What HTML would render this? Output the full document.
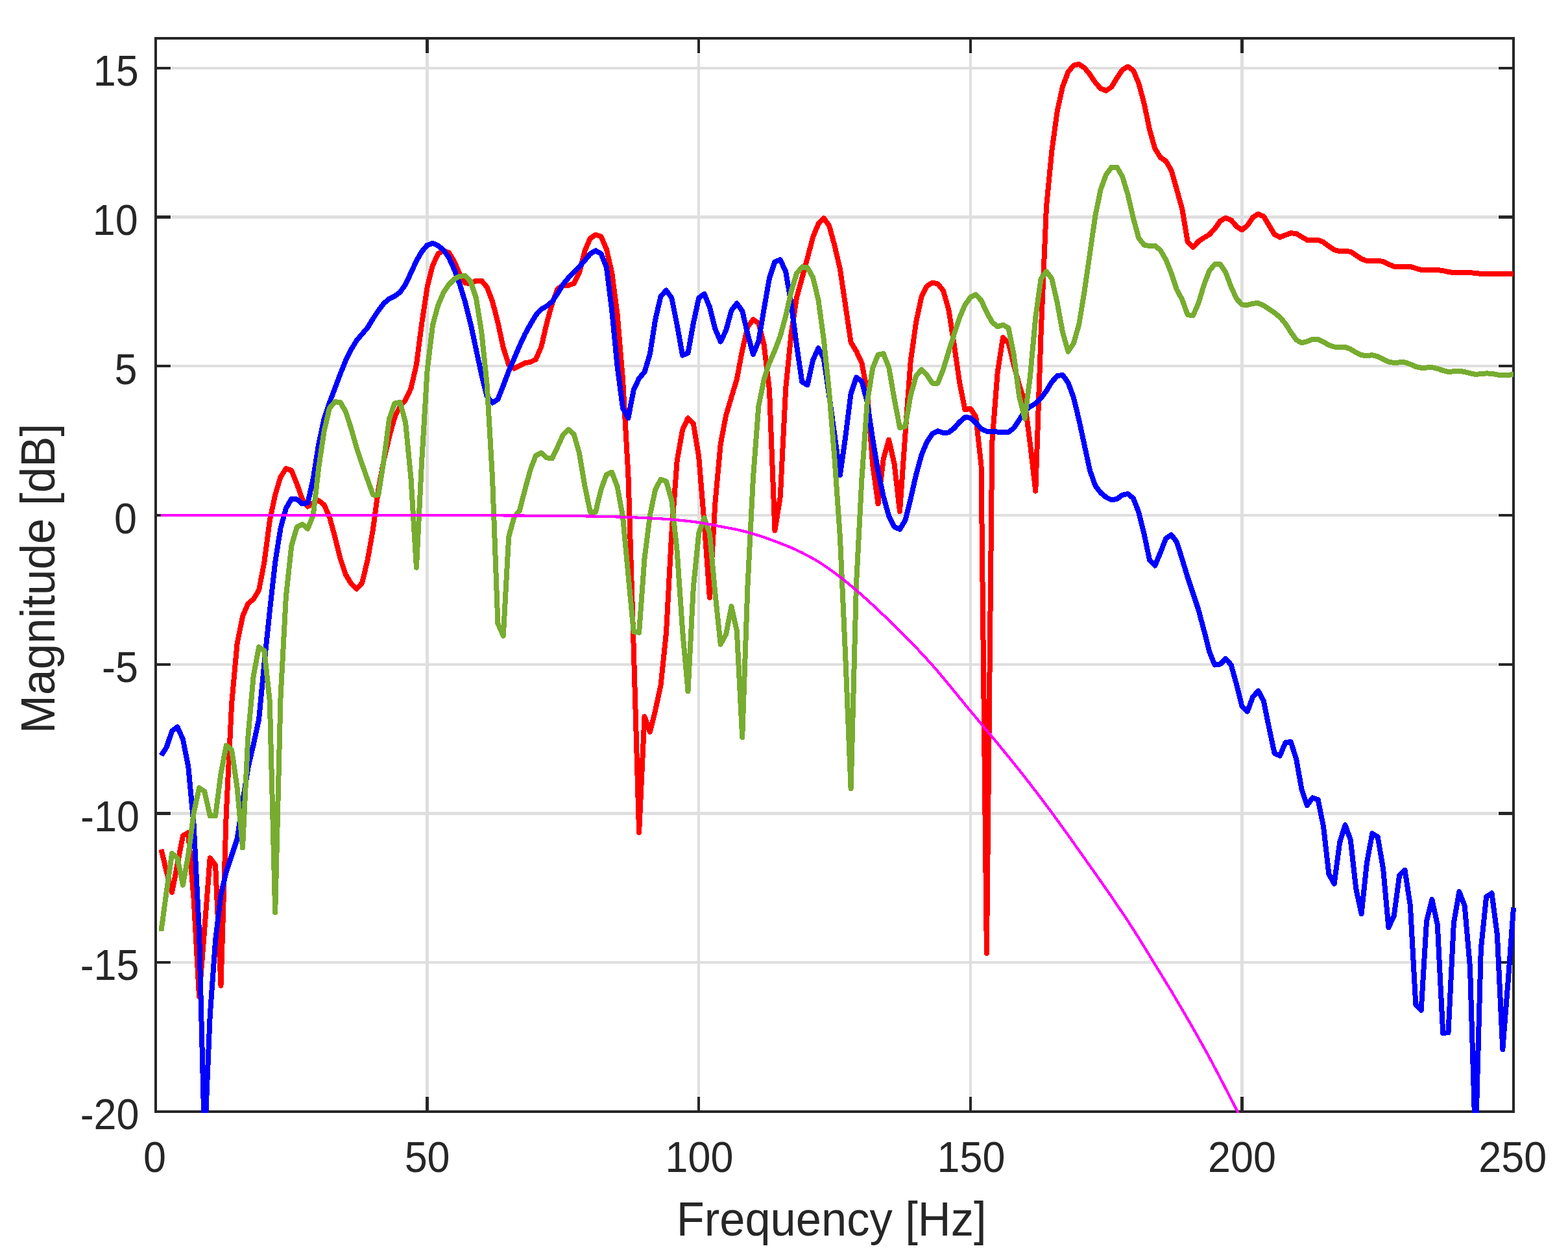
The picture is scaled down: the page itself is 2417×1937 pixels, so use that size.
<!DOCTYPE html>
<html lang="en"><head><meta charset="utf-8"><title>Magnitude response</title>
<style>html,body{margin:0;padding:0;background:#fff}body{width:2417px;height:1937px;overflow:hidden}svg{display:block}text{font-family:"Liberation Sans",sans-serif;fill:#262626}</style></head><body>
<svg width="2417" height="1937" viewBox="0 0 2417 1937" role="img" aria-label="Magnitude [dB] versus Frequency [Hz]">
<rect width="2417" height="1937" fill="#fff"/>
<defs><clipPath id="c"><rect x="236" y="57" width="2101" height="1658"/></clipPath></defs>
<g shape-rendering="crispEdges">
<rect x="656" y="83" width="5" height="1606" fill="#dfdfdf"/>
<rect x="1075" y="83" width="4" height="1606" fill="#dfdfdf"/>
<rect x="1494" y="83" width="4" height="1606" fill="#dfdfdf"/>
<rect x="1912" y="83" width="5" height="1606" fill="#dfdfdf"/>
<rect x="264" y="103" width="2045" height="4" fill="#dfdfdf"/>
<rect x="264" y="332" width="2045" height="5" fill="#dfdfdf"/>
<rect x="264" y="562" width="2045" height="4" fill="#dfdfdf"/>
<rect x="264" y="792" width="2045" height="4" fill="#dfdfdf"/>
<rect x="264" y="1022" width="2045" height="4" fill="#dfdfdf"/>
<rect x="264" y="1251" width="2045" height="5" fill="#dfdfdf"/>
<rect x="264" y="1481" width="2045" height="4" fill="#dfdfdf"/>
<rect x="238" y="57" width="2097" height="4" fill="#262626"/>
<rect x="238" y="1711" width="2097" height="4" fill="#262626"/>
<rect x="238" y="57" width="4" height="1658" fill="#262626"/>
<rect x="2331" y="57" width="4" height="1658" fill="#262626"/>
<rect x="656" y="1690" width="5" height="25" fill="#262626"/>
<rect x="656" y="57" width="5" height="25" fill="#262626"/>
<rect x="1075" y="1690" width="4" height="25" fill="#262626"/>
<rect x="1075" y="57" width="4" height="25" fill="#262626"/>
<rect x="1494" y="1690" width="4" height="25" fill="#262626"/>
<rect x="1494" y="57" width="4" height="25" fill="#262626"/>
<rect x="1912" y="1690" width="5" height="25" fill="#262626"/>
<rect x="1912" y="57" width="5" height="25" fill="#262626"/>
<rect x="238" y="103" width="25" height="4" fill="#262626"/>
<rect x="2310" y="103" width="25" height="4" fill="#262626"/>
<rect x="238" y="332" width="25" height="5" fill="#262626"/>
<rect x="2310" y="332" width="25" height="5" fill="#262626"/>
<rect x="238" y="562" width="25" height="4" fill="#262626"/>
<rect x="2310" y="562" width="25" height="4" fill="#262626"/>
<rect x="238" y="792" width="25" height="4" fill="#262626"/>
<rect x="2310" y="792" width="25" height="4" fill="#262626"/>
<rect x="238" y="1022" width="25" height="4" fill="#262626"/>
<rect x="2310" y="1022" width="25" height="4" fill="#262626"/>
<rect x="238" y="1251" width="25" height="5" fill="#262626"/>
<rect x="2310" y="1251" width="25" height="5" fill="#262626"/>
<rect x="238" y="1481" width="25" height="4" fill="#262626"/>
<rect x="2310" y="1481" width="25" height="4" fill="#262626"/>
</g>
<g clip-path="url(#c)" fill="none" stroke-linejoin="round" stroke-miterlimit="4" stroke-linecap="butt" shape-rendering="crispEdges">
<path d="M248.4 1309.0L256.7 1343.0L265.1 1375.0L273.5 1331.8L281.9 1287.9L290.2 1283.1L298.6 1384.7L307.0 1535.8L315.3 1432.0L323.7 1322.1L332.1 1333.2L340.5 1518.7L348.8 1253.1L357.2 1083.3L365.6 991.5L374.0 949.8L382.3 930.3L390.7 923.3L399.1 909.4L407.4 866.3L415.8 802.3L424.2 762.5L432.6 734.7L440.9 722.1L449.3 724.9L457.7 745.8L466.0 769.4L474.4 780.6L482.8 775.0L491.2 771.4L499.5 777.8L507.9 796.7L516.3 827.3L524.6 860.7L533.0 885.7L541.4 899.7L549.8 907.5L558.1 898.3L566.5 863.5L574.9 816.2L583.3 754.1L591.6 709.6L600.0 673.4L608.4 642.8L616.7 626.1L625.1 616.4L633.5 598.3L641.9 562.1L650.2 498.1L658.6 442.5L667.0 409.1L675.3 391.0L683.7 386.2L692.1 389.6L700.5 403.5L708.8 423.0L717.2 436.3L725.6 436.9L733.9 432.7L742.3 432.7L750.7 442.5L759.1 464.7L767.4 496.7L775.8 535.7L784.2 562.1L792.6 567.7L800.9 563.5L809.3 559.3L817.7 557.9L826.0 553.8L834.4 534.3L842.8 498.1L851.2 467.5L859.5 445.2L867.9 439.7L876.3 439.7L884.6 436.9L893.0 420.2L901.4 386.8L909.8 367.3L918.1 361.7L926.5 364.5L934.9 384.0L943.2 420.2L951.6 484.2L960.0 584.4L968.4 731.9L976.7 997.1L985.1 1283.0L993.5 1104.2L1001.9 1127.9L1010.2 1094.5L1018.6 1055.5L1027.0 974.8L1035.3 821.7L1043.7 709.6L1052.1 662.3L1060.5 644.2L1068.8 652.6L1077.2 704.0L1085.6 806.1L1093.9 920.9L1102.3 776.4L1110.7 684.5L1119.1 640.0L1127.4 612.2L1135.8 584.4L1144.2 539.9L1152.5 503.7L1160.9 492.5L1169.3 498.1L1177.7 531.5L1186.0 601.1L1194.4 817.6L1202.8 765.3L1211.2 598.3L1219.5 514.8L1227.9 459.1L1236.3 428.5L1244.6 397.9L1253.0 365.9L1261.4 345.1L1269.8 336.2L1278.1 347.8L1286.5 378.4L1294.9 414.6L1303.2 470.3L1311.6 527.3L1320.0 541.2L1328.4 559.3L1336.7 603.9L1345.1 715.2L1353.5 776.4L1361.8 706.8L1370.2 677.6L1378.6 715.2L1387.0 788.3L1395.3 670.7L1403.7 556.5L1412.1 496.4L1420.5 457.4L1428.8 440.8L1437.2 435.7L1445.6 437.4L1453.9 447.7L1462.3 476.9L1470.7 530.6L1479.1 589.1L1487.4 631.3L1495.8 629.7L1504.2 641.9L1512.5 717.1L1520.9 1469.0L1529.3 681.6L1537.7 573.6L1546.0 520.0L1554.4 527.8L1562.8 562.6L1571.1 593.2L1579.5 618.3L1587.9 683.7L1596.3 756.7L1604.6 513.9L1613.0 318.3L1621.4 232.0L1629.8 170.8L1638.1 133.2L1646.5 111.0L1654.9 100.7L1663.2 99.0L1671.6 104.5L1680.0 114.6L1688.4 127.1L1696.7 136.6L1705.1 139.6L1713.5 134.0L1721.8 119.9L1730.2 107.6L1738.6 102.6L1747.0 108.7L1755.3 128.5L1763.7 159.7L1772.1 200.0L1780.4 229.2L1788.8 242.6L1797.2 248.2L1805.6 262.6L1813.9 291.9L1822.3 322.5L1830.7 372.5L1839.1 380.9L1847.4 372.0L1855.8 366.4L1864.2 361.4L1872.5 352.5L1880.9 340.6L1889.3 335.8L1897.7 339.1L1906.0 348.9L1914.4 354.4L1922.8 347.5L1931.1 335.0L1939.5 329.7L1947.9 333.6L1956.3 347.5L1964.6 361.4L1973.0 365.6L1981.4 362.2L1989.7 359.2L1998.1 360.0L2006.5 365.0L2014.9 369.8L2023.2 370.3L2031.6 369.8L2040.0 373.1L2048.4 379.5L2056.7 385.1L2065.1 387.3L2073.5 387.0L2081.8 387.8L2090.2 393.4L2098.6 399.0L2107.0 402.0L2115.3 401.8L2123.7 401.5L2132.1 403.1L2140.4 407.3L2148.8 410.7L2157.2 411.2L2165.6 410.7L2173.9 410.9L2182.3 413.4L2190.7 416.0L2199.0 416.5L2207.4 416.2L2215.8 416.0L2224.2 417.1L2232.5 419.0L2240.9 420.1L2249.3 420.1L2257.7 419.9L2266.0 420.1L2274.4 421.0L2282.8 421.8L2291.1 422.1L2299.5 422.1L2307.9 422.1L2316.3 422.1L2324.6 422.1L2333.0 422.1" stroke="#ff0000" stroke-width="8"/>
<path d="M248.4 1164.1L256.7 1151.5L265.1 1126.5L273.5 1120.1L281.9 1139.0L290.2 1180.7L298.6 1270.3L307.0 1434.8L315.3 1763.5L323.7 1565.5L332.1 1448.8L340.5 1379.0L348.8 1343.2L357.2 1317.9L365.6 1292.6L374.0 1236.4L382.3 1183.5L390.7 1147.3L399.1 1108.4L407.4 1022.1L415.8 941.4L424.2 866.3L432.6 813.4L440.9 783.4L449.3 768.6L457.7 769.4L466.0 776.4L474.4 775.0L482.8 737.4L491.2 684.5L499.5 645.6L507.9 620.5L516.3 598.3L524.6 576.0L533.0 555.2L541.4 538.4L549.8 524.6L558.1 514.8L566.5 505.1L574.9 491.2L583.3 478.6L591.6 467.5L600.0 460.5L608.4 456.4L616.7 450.2L625.1 438.3L633.5 420.2L641.9 402.1L650.2 387.6L658.6 377.9L667.0 374.8L675.3 378.4L683.7 385.4L692.1 397.3L700.5 416.0L708.8 438.3L717.2 466.1L725.6 499.5L733.9 538.4L742.3 577.4L750.7 610.8L759.1 620.5L767.4 615.5L775.8 594.1L784.2 571.8L792.6 552.4L800.9 532.9L809.3 514.8L817.7 499.5L826.0 485.6L834.4 476.4L842.8 471.7L851.2 464.7L859.5 452.2L867.9 438.3L876.3 428.0L884.6 419.4L893.0 411.0L901.4 401.3L909.8 391.2L918.1 386.2L926.5 391.0L934.9 411.8L943.2 478.6L951.6 564.9L960.0 628.9L968.4 644.2L976.7 601.1L985.1 583.0L993.5 573.3L1001.9 545.4L1010.2 492.5L1018.6 456.4L1027.0 447.5L1035.3 459.1L1043.7 500.9L1052.1 547.6L1060.5 544.0L1068.8 498.1L1077.2 459.1L1085.6 453.0L1093.9 473.1L1102.3 506.5L1110.7 526.5L1119.1 509.2L1127.4 478.6L1135.8 467.5L1144.2 479.2L1152.5 514.8L1160.9 546.0L1169.3 525.9L1177.7 475.9L1186.0 428.5L1194.4 403.5L1202.8 400.2L1211.2 418.8L1219.5 467.5L1227.9 531.5L1236.3 588.6L1244.6 593.3L1253.0 555.2L1261.4 536.5L1269.8 552.4L1278.1 609.4L1286.5 670.7L1294.9 731.9L1303.2 673.4L1311.6 606.6L1320.0 581.6L1328.4 587.7L1336.7 619.2L1345.1 676.2L1353.5 726.3L1361.8 765.3L1370.2 795.3L1378.6 812.0L1387.0 815.6L1395.3 801.9L1403.7 768.6L1412.1 731.5L1420.5 700.9L1428.8 680.9L1437.2 668.4L1445.6 664.2L1453.9 667.0L1462.3 666.4L1470.7 660.0L1479.1 650.3L1487.4 643.3L1495.8 643.6L1504.2 651.6L1512.5 660.6L1520.9 664.7L1529.3 664.7L1537.7 665.6L1546.0 666.4L1554.4 666.1L1562.8 659.5L1571.1 647.0L1579.5 633.0L1587.9 626.6L1596.3 621.9L1604.6 613.6L1613.0 602.4L1621.4 588.5L1629.8 579.1L1638.1 577.9L1646.5 589.6L1654.9 612.7L1663.2 647.0L1671.6 685.9L1680.0 724.9L1688.4 748.5L1696.7 759.4L1705.1 766.3L1713.5 770.5L1721.8 768.9L1730.2 762.7L1738.6 761.0L1747.0 768.0L1755.3 789.4L1763.7 823.4L1772.1 863.2L1780.4 871.5L1788.8 851.2L1797.2 829.8L1805.6 824.2L1813.9 835.3L1822.3 861.8L1830.7 889.6L1839.1 914.7L1847.4 939.7L1855.8 971.1L1864.2 1004.5L1872.5 1024.6L1880.9 1023.5L1889.3 1015.1L1897.7 1024.6L1906.0 1054.6L1914.4 1088.6L1922.8 1096.4L1931.1 1074.1L1939.5 1064.6L1947.9 1080.2L1956.3 1122.0L1964.6 1160.9L1973.0 1164.6L1981.4 1144.2L1989.7 1143.1L1998.1 1169.3L2006.5 1216.6L2014.9 1241.1L2023.2 1229.4L2031.6 1232.2L2040.0 1273.4L2048.4 1347.1L2056.7 1361.9L2065.1 1298.4L2073.5 1271.2L2081.8 1294.3L2090.2 1369.4L2098.6 1408.3L2107.0 1329.0L2115.3 1284.5L2123.7 1289.5L2132.1 1338.8L2140.4 1429.2L2148.8 1411.1L2157.2 1348.5L2165.6 1340.8L2173.9 1395.8L2182.3 1548.3L2190.7 1556.7L2199.0 1419.5L2207.4 1386.1L2215.8 1425.1L2224.2 1592.0L2232.5 1591.2L2240.9 1422.3L2249.3 1374.1L2257.7 1395.8L2266.0 1490.4L2274.4 1768.1L2282.8 1462.7L2291.1 1381.9L2299.5 1376.4L2307.9 1440.4L2316.3 1617.1L2324.6 1512.7L2333.0 1398.6" stroke="#0000ff" stroke-width="8"/>
<path d="M248.4 1435.0L256.7 1373.6L265.1 1315.1L273.5 1322.1L281.9 1363.8L290.2 1317.9L298.6 1253.1L307.0 1214.1L315.3 1219.7L323.7 1257.2L332.1 1257.2L340.5 1191.9L348.8 1148.7L357.2 1155.7L365.6 1214.1L374.0 1306.4L382.3 1136.2L390.7 1041.6L399.1 997.1L407.4 1002.6L415.8 1080.5L424.2 1406.1L432.6 1072.2L440.9 919.1L449.3 841.2L457.7 812.0L466.0 807.8L474.4 814.8L482.8 793.9L491.2 720.7L499.5 665.1L507.9 628.9L516.3 619.2L524.6 620.0L533.0 634.5L541.4 660.9L549.8 690.1L558.1 715.2L566.5 738.8L574.9 762.5L583.3 762.5L591.6 709.6L600.0 645.6L608.4 621.4L616.7 620.0L625.1 651.2L633.5 737.4L641.9 874.6L650.2 709.6L658.6 570.5L667.0 500.9L675.3 470.3L683.7 450.8L692.1 438.3L700.5 429.9L708.8 425.7L717.2 425.2L725.6 434.1L733.9 459.1L742.3 512.0L750.7 592.7L759.1 737.4L767.4 960.9L775.8 979.8L784.2 827.3L792.6 796.7L800.9 787.0L809.3 754.1L817.7 723.5L826.0 701.8L834.4 697.9L842.8 705.4L851.2 706.3L859.5 688.7L867.9 670.1L876.3 661.8L884.6 669.2L893.0 698.5L901.4 748.6L909.8 788.9L918.1 788.9L926.5 754.1L934.9 731.3L943.2 727.7L951.6 750.0L960.0 795.9L968.4 885.7L976.7 973.4L985.1 974.8L993.5 860.7L1001.9 793.9L1010.2 754.1L1018.6 738.8L1027.0 741.6L1035.3 770.8L1043.7 849.6L1052.1 972.0L1060.5 1065.2L1068.8 905.2L1077.2 821.7L1085.6 798.1L1093.9 821.7L1102.3 913.6L1110.7 992.9L1119.1 977.6L1127.4 934.4L1135.8 972.0L1144.2 1136.2L1152.5 902.5L1160.9 737.4L1169.3 626.1L1177.7 584.4L1186.0 559.3L1194.4 539.9L1202.8 517.6L1211.2 487.0L1219.5 449.4L1227.9 421.6L1236.3 411.3L1244.6 412.4L1253.0 427.2L1261.4 461.9L1269.8 523.1L1278.1 603.9L1286.5 706.8L1294.9 827.3L1303.2 1011.0L1311.6 1215.5L1320.0 899.7L1328.4 738.3L1336.7 620.5L1345.1 567.7L1353.5 546.8L1361.8 544.9L1370.2 566.3L1378.6 615.0L1387.0 659.0L1395.3 657.3L1403.7 609.4L1412.1 579.3L1420.5 569.6L1428.8 577.9L1437.2 590.5L1445.6 590.5L1453.9 569.6L1462.3 541.7L1470.7 515.3L1479.1 489.5L1487.4 470.0L1495.8 458.3L1504.2 454.1L1512.5 463.0L1520.9 481.1L1529.3 496.4L1537.7 503.3L1546.0 500.6L1554.4 505.3L1562.8 547.3L1571.1 611.3L1579.5 644.8L1587.9 580.7L1596.3 488.9L1604.6 429.6L1613.0 418.5L1621.4 429.6L1629.8 467.2L1638.1 512.5L1646.5 541.7L1654.9 529.2L1663.2 500.0L1671.6 449.1L1680.0 390.6L1688.4 332.2L1696.7 291.9L1705.1 268.8L1713.5 257.6L1721.8 257.6L1730.2 272.4L1738.6 300.2L1747.0 336.4L1755.3 367.0L1763.7 377.6L1772.1 379.0L1780.4 378.7L1788.8 385.6L1797.2 400.4L1805.6 421.3L1813.9 446.3L1822.3 461.6L1830.7 485.2L1839.1 486.1L1847.4 467.2L1855.8 439.3L1864.2 417.1L1872.5 407.3L1880.9 407.3L1889.3 419.9L1897.7 442.1L1906.0 460.2L1914.4 469.4L1922.8 469.9L1931.1 467.7L1939.5 467.2L1947.9 470.8L1956.3 476.3L1964.6 481.9L1973.0 488.9L1981.4 498.6L1989.7 511.7L1998.1 523.6L2006.5 528.4L2014.9 526.2L2023.2 522.8L2031.6 522.8L2040.0 527.0L2048.4 531.7L2056.7 534.5L2065.1 534.5L2073.5 534.8L2081.8 538.1L2090.2 543.1L2098.6 547.3L2107.0 547.9L2115.3 547.3L2123.7 549.2L2132.1 553.4L2140.4 557.6L2148.8 559.0L2157.2 558.4L2165.6 558.4L2173.9 561.2L2182.3 565.1L2190.7 566.8L2199.0 566.5L2207.4 566.2L2215.8 567.9L2224.2 571.0L2232.5 572.9L2240.9 572.3L2249.3 571.8L2257.7 572.9L2266.0 575.2L2274.4 576.8L2282.8 576.3L2291.1 575.4L2299.5 575.7L2307.9 577.4L2316.3 578.5L2324.6 577.9L2333.0 577.1" stroke="#77ac30" stroke-width="8"/>
<path d="M248.4 794.1L256.7 794.1L265.1 794.1L273.5 794.1L281.9 794.1L290.2 794.1L298.6 794.1L307.0 794.1L315.3 794.1L323.7 794.1L332.1 794.1L340.5 794.1L348.8 794.1L357.2 794.1L365.6 794.1L374.0 794.1L382.3 794.1L390.7 794.1L399.1 794.1L407.4 794.1L415.8 794.1L424.2 794.1L432.6 794.1L440.9 794.1L449.3 794.1L457.7 794.1L466.0 794.1L474.4 794.1L482.8 794.1L491.2 794.1L499.5 794.1L507.9 794.1L516.3 794.1L524.6 794.1L533.0 794.1L541.4 794.1L549.8 794.1L558.1 794.1L566.5 794.1L574.9 794.1L583.3 794.1L591.6 794.1L600.0 794.1L608.4 794.1L616.7 794.1L625.1 794.1L633.5 794.1L641.9 794.2L650.2 794.2L658.6 794.2L667.0 794.2L675.3 794.2L683.7 794.2L692.1 794.2L700.5 794.2L708.8 794.2L717.2 794.3L725.6 794.3L733.9 794.3L742.3 794.3L750.7 794.3L759.1 794.3L767.4 794.4L775.8 794.4L784.2 794.4L792.6 794.5L800.9 794.5L809.3 794.6L817.7 794.6L826.0 794.7L834.4 794.7L842.8 794.8L851.2 794.8L859.5 794.9L867.9 795.0L876.3 795.1L884.6 795.2L893.0 795.3L901.4 795.4L909.8 795.5L918.1 795.6L926.5 795.8L934.9 796.0L943.2 796.2L951.6 796.5L960.0 796.7L968.4 797.0L976.7 797.3L985.1 797.7L993.5 798.0L1001.9 798.5L1010.2 798.9L1018.6 799.4L1027.0 800.0L1035.3 800.6L1043.7 801.3L1052.1 802.1L1060.5 803.0L1068.8 804.0L1077.2 805.1L1085.6 806.5L1093.9 808.0L1102.3 809.6L1110.7 811.3L1119.1 812.9L1127.4 814.4L1135.8 816.1L1144.2 818.0L1152.5 820.2L1160.9 822.6L1169.3 825.2L1177.7 827.9L1186.0 830.9L1194.4 834.0L1202.8 837.2L1211.2 840.5L1219.5 843.9L1227.9 847.7L1236.3 851.7L1244.6 856.0L1253.0 860.6L1261.4 865.5L1269.8 870.9L1278.1 876.7L1286.5 882.8L1294.9 889.1L1303.2 895.7L1311.6 902.5L1320.0 909.6L1328.4 916.9L1336.7 924.4L1345.1 932.0L1353.5 939.8L1361.8 947.8L1370.2 955.9L1378.6 964.1L1387.0 972.4L1395.3 980.8L1403.7 989.3L1412.1 997.9L1420.5 1006.7L1428.8 1015.7L1437.2 1025.0L1445.6 1034.6L1453.9 1044.5L1462.3 1054.6L1470.7 1064.9L1479.1 1075.2L1487.4 1085.3L1495.8 1095.4L1504.2 1105.4L1512.5 1115.5L1520.9 1125.5L1529.3 1135.5L1537.7 1145.6L1546.0 1155.7L1554.4 1166.0L1562.8 1176.3L1571.1 1186.7L1579.5 1197.3L1587.9 1208.1L1596.3 1219.0L1604.6 1230.0L1613.0 1241.2L1621.4 1252.4L1629.8 1263.8L1638.1 1275.4L1646.5 1287.0L1654.9 1298.8L1663.2 1310.6L1671.6 1322.4L1680.0 1334.3L1688.4 1346.1L1696.7 1358.0L1705.1 1370.0L1713.5 1382.0L1721.8 1394.3L1730.2 1406.7L1738.6 1419.3L1747.0 1432.2L1755.3 1445.4L1763.7 1459.0L1772.1 1472.6L1780.4 1486.3L1788.8 1499.9L1797.2 1513.6L1805.6 1527.4L1813.9 1541.5L1822.3 1555.7L1830.7 1570.1L1839.1 1584.6L1847.4 1599.3L1855.8 1614.3L1864.2 1629.5L1872.5 1645.2L1880.9 1661.2L1889.3 1677.4L1897.7 1693.7L1906.0 1709.8L1914.4 1725.7L1922.8 1741.6L1931.1 1757.4L1939.5 1773.2L1947.9 1789.1L1956.3 1804.9" stroke="#ff00ff" stroke-width="4.2"/>
</g>
<g font-size="66.6" text-anchor="middle">
<text transform="translate(238.4 1806.2) scale(0.944 1)">0</text>
<text transform="translate(658.6 1806.2) scale(0.944 1)">50</text>
<text transform="translate(1078.0 1806.2) scale(0.944 1)">100</text>
<text transform="translate(1497.0 1806.2) scale(0.944 1)">150</text>
<text transform="translate(1914.4 1806.2) scale(0.944 1)">200</text>
<text transform="translate(2331.8 1806.2) scale(0.944 1)">250</text>
</g>
<g font-size="66.6" text-anchor="end">
<text transform="translate(214.5 1740.0) scale(0.944 1)">-20</text>
<text transform="translate(214.5 1510.3) scale(0.944 1)">-15</text>
<text transform="translate(214.9 1280.6) scale(0.944 1)">-10</text>
<text transform="translate(213.0 1050.8) scale(0.944 1)">-5</text>
<text transform="translate(211.0 822.1) scale(0.944 1)">0</text>
<text transform="translate(211.5 592.4) scale(0.944 1)">5</text>
<text transform="translate(212.7 361.7) scale(0.944 1)">10</text>
<text transform="translate(213.6 132.0) scale(0.944 1)">15</text>
</g>
<text transform="translate(1281.6 1903.8) scale(0.959 1)" font-size="73.5" text-anchor="middle">Frequency [Hz]</text>
<text transform="translate(84.4 891.4) rotate(-90) scale(0.965713 1)" font-size="73.5" text-anchor="middle">Magnitude [dB]</text>
</svg></body></html>
